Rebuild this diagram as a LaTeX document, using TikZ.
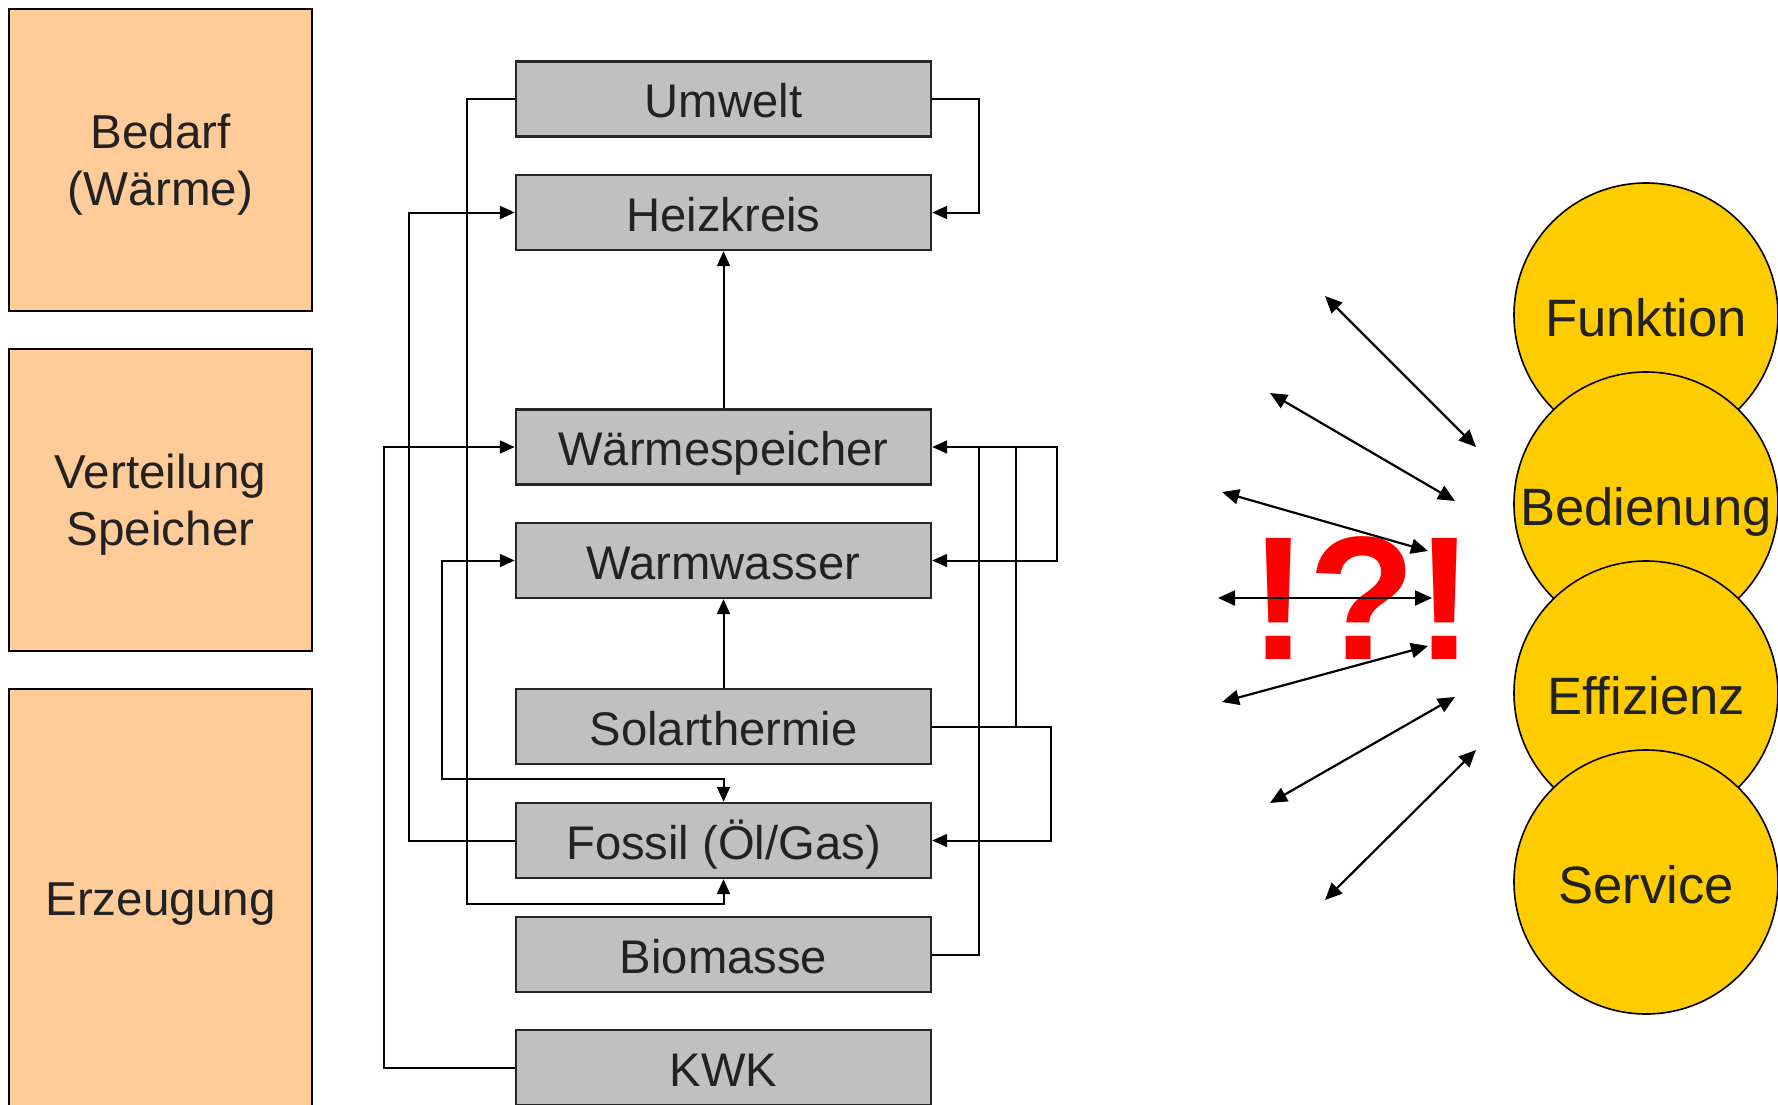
\documentclass[tikz,border=0pt]{standalone}
\usepackage{fontspec}
\setmainfont{Liberation Sans}
\usetikzlibrary{arrows.meta}
\definecolor{peach}{HTML}{FFCC99}
\definecolor{boxgray}{HTML}{C0C0C0}
\definecolor{gold}{HTML}{FFCC00}
\definecolor{txt}{HTML}{222222}
\begin{document}
\begin{tikzpicture}[x=0.5pt,y=-0.5pt,
 layer/.style={draw=black, line width=1.2pt, fill=peach, minimum width=151.5pt, inner sep=0pt, text=txt, font=\fontsize{23.8pt}{28.5pt}\selectfont, align=center, text depth=0pt},
 unit/.style={draw=black!85, line width=1.2pt, fill=boxgray, minimum width=207.5pt, minimum height=37.5pt, inner sep=0pt, text=txt, font=\fontsize{23.6pt}{28pt}\selectfont, text height=18.9pt, text depth=0pt},
 goal/.style={circle, draw=black, line width=0.8pt, fill=gold, minimum size=132pt, inner sep=0pt, text=txt, font=\fontsize{26.3pt}{30pt}\selectfont, text height=21pt, text depth=0pt},
 conn/.style={line width=1pt, -{Triangle[length=7.5pt,width=6.5pt]}},
 both/.style={line width=1pt, {Triangle[length=7.5pt,width=6.5pt]}-{Triangle[length=7.5pt,width=6.5pt]}},
 link/.style={line width=1pt},
 dbl/.style={line width=1.1pt, {Triangle[length=8.5pt,width=7.5pt]}-{Triangle[length=8.5pt,width=7.5pt]}}
]
\useasboundingbox (0,0) rectangle (1778,1104);

% left layer boxes
\node[layer, minimum height=151pt] (bed) at (160.5,160) {Bedarf\\(Wärme)};
\node[layer, minimum height=151pt] (ver) at (160.5,500) {Verteilung\\Speicher};
\node[layer, minimum height=210.5pt] (erz) at (160.5,899.5) {Erzeugung};

% middle boxes
\node[unit] (umw) at (723.5,99) {Umwelt};
\node[unit] (hk)  at (723.5,212.5) {Heizkreis};
\node[unit] (ws)  at (723.5,447) {Wärmespeicher};
\node[unit] (ww)  at (723.5,560.5) {Warmwasser};
\node[unit] (sol) at (723.5,726.5) {Solarthermie};
\node[unit] (fos) at (723.5,840.5) {Fossil (Öl/Gas)};
\node[unit] (bio) at (723.5,954.5) {Biomasse};
\node[unit] (kwk) at (723.5,1067.5) {KWK};

% bus positions
\coordinate (xa) at (384,0);
\coordinate (xb) at (409,0);
\coordinate (xc) at (442,0);
\coordinate (xd) at (467,0);
\coordinate (ya) at (0,779);
\coordinate (yb) at (0,904);
\coordinate (xr1) at (979,0);
\coordinate (xr2) at (1016,0);
\coordinate (xr3) at (1051,0);
\coordinate (xr4) at (1057,0);

% vertical arrows
\draw[conn] (ws.north) -- (hk.south);
\draw[conn] (sol.north) -- (ww.south);

% left connectors
\draw[conn] (kwk.west) -- (kwk.west -| xa) -- (ws.west -| xa) -- (ws.west);
\draw[conn] (fos.west) -- (fos.west -| xb) -- (hk.west -| xb) -- (hk.west);
\draw[both] (ww.west) -- (ww.west -| xc) -- (xc |- ya) -- (fos.north |- ya) -- (fos.north);
\draw[conn] (umw.west) -- (umw.west -| xd) -- (xd |- yb) -- (fos.south |- yb) -- (fos.south);

% right connectors
\draw[conn] (umw.east) -- (umw.east -| xr1) -- (hk.east -| xr1) -- (hk.east);
\draw[conn] (bio.east) -- (bio.east -| xr1) -- (ws.east -| xr1) -- (ws.east);
\draw[link] (sol.east) -- (sol.east -| xr2) -- (ws.east -| xr2);
\draw[conn] (sol.east) -- (sol.east -| xr3) -- (fos.east -| xr3) -- (fos.east);
\draw[conn] (ws.east -| xr1) -- (ws.east -| xr4) -- (ww.east -| xr4) -- (ww.east);

% goal circles
\node[goal] (fun) at (1646,315) {Funktion};
\node[goal] (bedi) at (1646,504) {Bedienung};
\node[goal] (eff) at (1646,693) {Effizienz};
\node[goal] (ser) at (1646,882) {Service};

% question marks
\node[text=red, font=\fontsize{88pt}{90pt}\selectfont\bfseries, inner sep=0pt] (q) at (1362,598) {!?!};

% radiating arrows
\coordinate (a1s) at (1325,296);  \coordinate (a1e) at (1476,447);
\coordinate (a2s) at (1270,393);  \coordinate (a2e) at (1455,501);
\coordinate (a3s) at (1222,492);  \coordinate (a3e) at (1428,551);
\coordinate (a4s) at (1218,598);  \coordinate (a4e) at (1432,598);
\coordinate (a5s) at (1222,702);  \coordinate (a5e) at (1428,646);
\coordinate (a6s) at (1270,803);  \coordinate (a6e) at (1455,697);
\coordinate (a7s) at (1325,900);  \coordinate (a7e) at (1476,750);
\draw[dbl] (a1s) -- (a1e);
\draw[dbl] (a2s) -- (a2e);
\draw[dbl] (a3s) -- (a3e);
\draw[dbl] (a4s) -- (a4e);
\draw[dbl] (a5s) -- (a5e);
\draw[dbl] (a6s) -- (a6e);
\draw[dbl] (a7s) -- (a7e);
\end{tikzpicture}
\end{document}
